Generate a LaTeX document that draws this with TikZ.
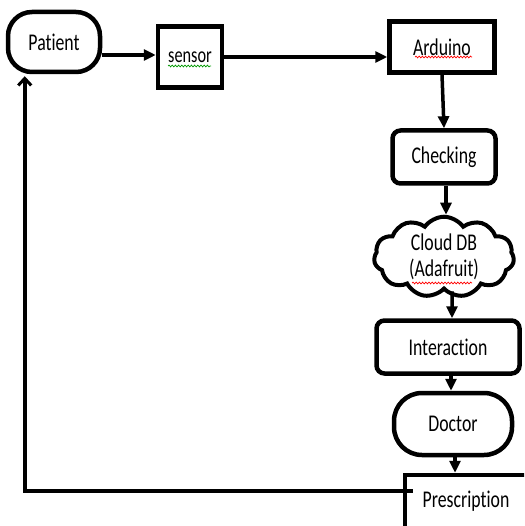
\documentclass[tikz,border=0pt]{standalone}
\usepackage{fontspec}
\newfontfamily\lbl[FakeStretch=0.74,Ligatures=NoCommon]{Carlito}
\usetikzlibrary{shapes.symbols,arrows.meta,decorations.pathmorphing,calc}
\begin{document}
\begin{tikzpicture}[x=1pt,y=-1pt,
  lab/.style={font=\lbl\fontsize{24}{28}\selectfont,text=black},
  box/.style={draw,line width=4.5pt,fill=white,inner sep=0pt,lab},
  conn/.style={line width=3.5pt,-{Triangle[length=12pt,width=11pt]}},
  back/.style={line width=3.5pt,-{Straight Barb[length=7pt,width=13pt,line width=3pt]}},
  squig/.style={line width=0.7pt,decorate,decoration={snake,amplitude=0.9pt,segment length=3.2pt}}]
\useasboundingbox[fill=white] (0,0) rectangle (524,526);
\clip (0,0) rectangle (524,526);
% nodes
\node[box,rounded corners=24pt,minimum width=92pt,minimum height=60pt] (patient) at (54,42) {Patient};
\node[box,minimum width=64pt,minimum height=61pt,font=\lbl\fontsize{22}{26}\selectfont] (sensor) at (190,57) {sensor};
\node[box,minimum width=105pt,minimum height=51pt] (arduino) at (442,47) {Arduino};
\node[box,rounded corners=8pt,minimum width=103pt,minimum height=53pt] (checking) at (444,157) {Checking};
\node[cloud,draw,line width=4pt,fill=white,cloud puffs=11,cloud puff arc=110,aspect=1.9,inner sep=0pt,
      minimum width=140pt,minimum height=76pt,lab,align=center] (cloud) at (444,257) {Cloud DB\\[-2pt](Adafruit)};
\node[box,rounded corners=8pt,minimum width=143pt,minimum height=53pt] (interaction) at (448,347) {Interaction};
\node[box,rounded corners=28pt,minimum width=118pt,minimum height=62pt] (doctor) at (453,424) {Doctor};
\node[box,minimum width=130pt,minimum height=56pt] (presc) at (470,503) {};
\node[lab] (presctext) at (466,501) {Prescription};
% spell-check squiggles
\draw[squig,green!60!black] ($(sensor.center)+(-22,9)$) -- ($(sensor.center)+(21,9)$);
\draw[squig,red] ($(arduino.center)+(-27,10)$) -- ($(arduino.center)+(30,10)$);
\draw[squig,red] ($(cloud.center)+(-32,26)$) -- ($(cloud.center)+(28,26)$);
% connectors
\coordinate (p1) at ($(patient.east)+(0,13)$);
\draw[conn] (p1) -- (p1 -| sensor.west);
\draw[conn] (sensor.east) -- (sensor.east -| arduino.west);
\draw[conn] (arduino.south) -- (checking.north);
\draw[conn] ([xshift=2pt]checking.south) -- ([xshift=2pt]cloud.north);
\draw[conn] ([xshift=8pt]cloud.south) -- ([xshift=4pt]interaction.north);
\draw[conn] ([xshift=3pt]interaction.south) -- ([xshift=-2pt]doctor.north);
\draw[conn] ([xshift=2pt]doctor.south) -- ([xshift=2pt]doctor.south |- presc.north);
\coordinate (fb) at ($(presc.west)+(10,-12)$);
\coordinate (patin) at ($(patient.south west)+(19,2)$);
\draw[back] (fb) -| (patin);
\end{tikzpicture}
\end{document}
